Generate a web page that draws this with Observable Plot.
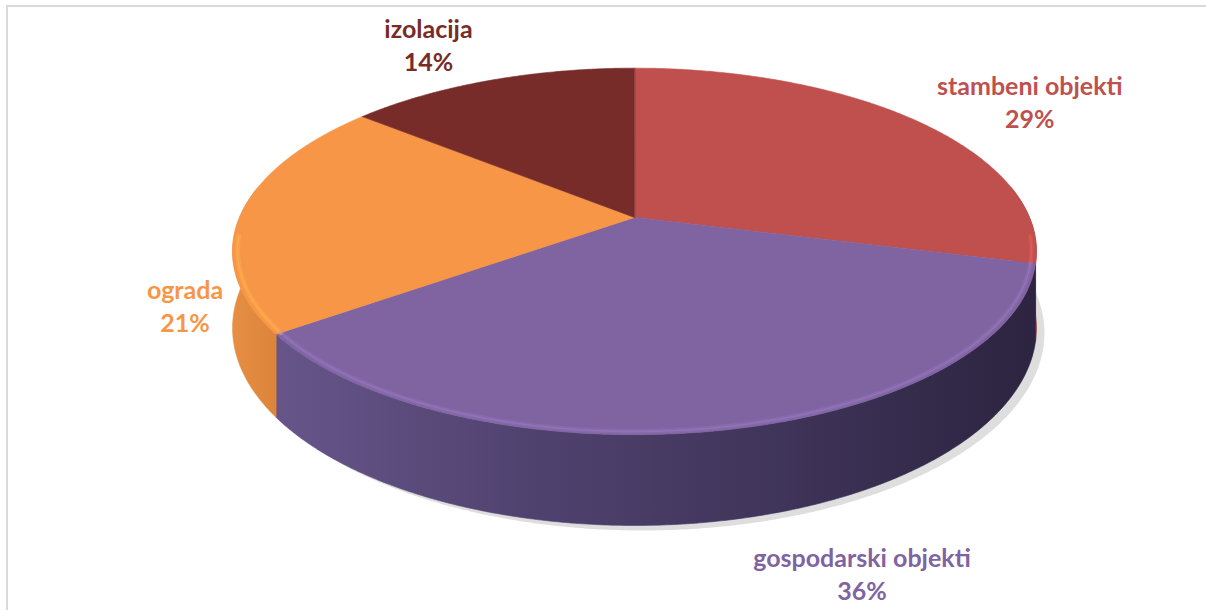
<!DOCTYPE html>
<html>
<head>
<meta charset="utf-8">
<script src="https://cdn.jsdelivr.net/npm/d3@7"></script>
<script src="https://cdn.jsdelivr.net/npm/@observablehq/plot@0.6"></script>
<style>
  body { margin: 0; background: #fff; }
  #wrap { position: relative; width: 1206px; height: 610px; overflow: hidden; }
  #wrap svg { position: absolute; left: 0; top: 0; }
  #frame { position: absolute; left: 6px; top: 5px; right: -10px; bottom: -10px;
           border-top: 2px solid #d9d9d9; border-left: 2px solid #d9d9d9; pointer-events: none; }
</style>
</head>
<body>
<div id="wrap"><div id="frame"></div></div>
<script>
// ---- data ----
const categories = ["stambeni objekti", "gospodarski objekti", "ograda", "izolacija"];
const values = [29, 36, 21, 14];
const palette = ["#C0504D", "#8064A2", "#F79646", "#772C2A"];

// ---- layout (view parameters of the 3D pie) ----
const W = 1206, HH = 610;
const view = { cx: 634, cy: 217, A: 395, B: 177, p: 0.185, depth: 74 };
const labelOffset = [[115, -19], [137, 53], [-57, 93], [-62, -36]];
const sideShades = [
  ["#A84542", "#8E3936"],
  ["#67558A", "#50426F", "#3F3459", "#2C2440"],
  ["#E68E44", "#DC853A"],
  ["#5E2321", "#4E1C1B"]
];

const rad = d => d * Math.PI / 180;
function proj(t, r = 1) {
  const X = r * Math.sin(t), Z = r * Math.cos(t);
  const w = 1 + view.p * Z;
  return { x: view.cx + view.A * X / w, y: view.cy - view.B * Z / w, w };
}
function arc(a0, a1, r = 1) {
  const steps = Math.max(2, Math.ceil((a1 - a0) / rad(0.5)));
  const pts = [];
  for (let k = 0; k <= steps; k++) pts.push(proj(a0 + (a1 - a0) * k / steps, r));
  return pts;
}
const lower = p => ({ x: p.x, y: p.y + view.depth / p.w, w: p.w });
const ring = pts => ({ type: "Polygon", coordinates: [pts.map(p => [p.x, p.y])] });
const path = pts => ({ type: "LineString", coordinates: pts.map(p => [p.x, p.y]) });

const total = d3.sum(values);
let acc = 0;
const slices = values.map((v, i) => {
  const a0 = acc / total * 2 * Math.PI; acc += v;
  const a1 = acc / total * 2 * Math.PI;
  return { i, name: categories[i], v, a0, a1, color: palette[i] };
});

// top faces
const tops = slices.map(s => {
  const c = proj(0, 0);
  return { geom: ring([c, ...arc(s.a0, s.a1), c]), fill: s.color };
});

// side walls (front-facing part)
const lo = rad(80), hi = rad(280);
const sides = [];
slices.forEach(s => {
  const s0 = Math.max(s.a0, lo), s1 = Math.min(s.a1, hi);
  if (s1 <= s0) return;
  const top = arc(s0, s1);
  const bot = top.map(lower).reverse();
  const pts = [...top, ...bot, top[0]];
  sides.push({ geom: ring(pts), fill: `url(#side${s.i})`, i: s.i, x0: d3.min(pts, p => p.x), x1: d3.max(pts, p => p.x) });
});

// bevel highlight along the front rim
const bevels = [];
slices.forEach(s => {
  const s0 = Math.max(s.a0, rad(96)), s1 = Math.min(s.a1, rad(264));
  if (s1 <= s0) return;
  const c = d3.color(s.color);
  bevels.push({ geom: path(arc(s0, s1, 0.988)), soft: c.brighter(0.3).formatHex(), hard: c.brighter(0.5).formatHex() });
});

// soft shadow below the pie
const shadow = [{ geom: ring(arc(0, 2 * Math.PI).map(lower).map(p => ({ x: p.x + 8, y: p.y + 5 }))) }];

// labels
const labelData = slices.map(s => {
  const mid = (s.a0 + s.a1) / 2;
  let p = proj(mid);
  if (Math.cos(mid) < 0) p = lower(p);
  const pct = Math.round(s.v / total * 100) + "%";
  return { x: p.x + labelOffset[s.i][0], y: p.y + labelOffset[s.i][1], text: s.name + "\n" + pct, color: s.color };
});

const frameRect = { type: "Polygon", coordinates: [[[0, 0], [W, 0], [W, HH], [0, HH], [0, 0]]] };

const chart = Plot.plot({
  width: W, height: HH,
  margin: 0,
  projection: { type: "identity", domain: frameRect },
  color: { type: "identity" },
  style: { background: "transparent" },
  marks: [
    Plot.geo(shadow, { geometry: "geom", fill: "#000", fillOpacity: 0.13, stroke: "none", ariaLabel: "shadow" }),
    Plot.geo(sides, { geometry: "geom", fill: "fill", stroke: "fill", strokeWidth: 0.6 }),
    Plot.geo(tops, { geometry: "geom", fill: "fill", stroke: "fill", strokeWidth: 0.6 }),
    Plot.geo(bevels, { geometry: "geom", fill: "none", stroke: "soft", strokeWidth: 5, strokeOpacity: 0.5 }),
    Plot.geo(bevels, { geometry: "geom", fill: "none", stroke: "hard", strokeWidth: 1.5, strokeOpacity: 0.6 }),
    Plot.text(labelData, {
      x: "x", y: "y", text: "text", fill: "color",
      fontSize: 25, fontWeight: "bold", fontFamily: "Lato",
      lineHeight: 1.32, textAnchor: "middle", lineAnchor: "middle"
    })
  ]
});

// gradients and blur
const svg = d3.select(chart);
const defs = svg.insert("defs", ":first-child");
sides.forEach(s => {
  const g = defs.append("linearGradient").attr("id", `side${s.i}`)
    .attr("gradientUnits", "userSpaceOnUse")
    .attr("x1", s.x0).attr("x2", s.x1).attr("y1", 0).attr("y2", 0);
  const st = sideShades[s.i];
  st.forEach((c, k) => g.append("stop").attr("offset", k / (st.length - 1)).attr("stop-color", c));
});
defs.append("filter").attr("id", "blur").attr("x", "-10%").attr("y", "-10%").attr("width", "120%").attr("height", "130%")
  .append("feGaussianBlur").attr("stdDeviation", 7);
svg.selectAll('g[aria-label="shadow"]').attr("filter", "url(#blur)");

document.getElementById("wrap").prepend(chart);
</script>
</body>
</html>
